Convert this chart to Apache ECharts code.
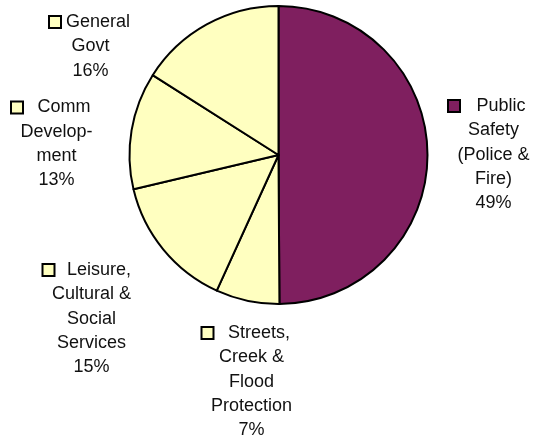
<!DOCTYPE html>
<html>
<head>
<meta charset="utf-8">
<script src="https://cdn.jsdelivr.net/npm/echarts@6/dist/echarts.min.js"></script>
<style>
html,body{margin:0;padding:0;background:#fff;}
#chart{width:538px;height:438px;}
</style>
</head>
<body>
<div id="chart"></div>
<script>
// ---- data ----
const categories = [
  'Public\nSafety\n(Police &\nFire)',
  'Streets,\nCreek &\nFlood\nProtection',
  'Leisure,\nCultural &\nSocial\nServices',
  'Comm\nDevelop-\nment',
  'General\nGovt'
];
const values = [49.9, 6.9, 14.5, 12.7, 16.0];
const pctLabels = ['49%', '7%', '15%', '13%', '16%'];

// ---- styles / layout ----
const sliceColors = ['#7F1F5F', '#FFFFC0', '#FFFFC0', '#FFFFC0', '#FFFFC0'];
const labelAnchors = [[501, 106], [259, 333], [99, 270], [64, 107.5], [98, 22]]; // centre of text block, first-line centre
const FONT = 'Liberation Sans, Arial, sans-serif';
const FS = 18, LH = 24.3;

const ctx = document.createElement('canvas').getContext('2d');
ctx.font = FS + 'px ' + FONT;
function widest(lines) { return Math.max.apply(null, lines.map(l => ctx.measureText(l).width)); }

const rich = { g: { width: 5 } };
const blockWidths = [];
categories.forEach((c, i) => {
  const lines = c.split('\n').concat([pctLabels[i]]);
  const W = Math.ceil(widest(lines)) + 1;
  blockWidths.push(W);
  rich['m' + i] = { width: 10, height: 10, backgroundColor: sliceColors[i], borderColor: '#000', borderWidth: 2 };
  rich['t' + i] = { width: W, align: 'center', fontSize: FS, lineHeight: LH, color: '#111', fontFamily: FONT };
});

const chart = echarts.init(document.getElementById('chart'), null, { renderer: 'canvas' });
chart.setOption({
  animation: false,
  backgroundColor: '#fff',
  series: [{
    type: 'pie',
    center: [278.5, 155],
    radius: 149,
    startAngle: 90,
    clockwise: true,
    avoidLabelOverlap: false,
    data: categories.map((c, i) => ({ name: c, value: values[i], itemStyle: { color: sliceColors[i] } })),
    itemStyle: { borderColor: '#000', borderWidth: 2 },
    emphasis: { disabled: true },
    labelLine: { show: false },
    label: {
      show: true,
      position: 'outside',
      align: 'right',
      rich: rich,
      formatter: function (p) {
        const i = p.dataIndex;
        const lines = p.name.split('\n');
        let s = '{m' + i + '|}{g|}{t' + i + '|' + lines[0] + '}';
        for (let k = 1; k < lines.length; k++) s += '\n{t' + i + '|' + lines[k] + '}';
        s += '\n{t' + i + '|' + pctLabels[i] + '}';
        return s;
      }
    },
    labelLayout: function (params) {
      const i = params.dataIndex;
      const a = labelAnchors[i];
      return { x: a[0] + blockWidths[i] / 2, y: a[1] - LH / 2, align: 'right', verticalAlign: 'top' };
    }
  }]
});
</script>
</body>
</html>
